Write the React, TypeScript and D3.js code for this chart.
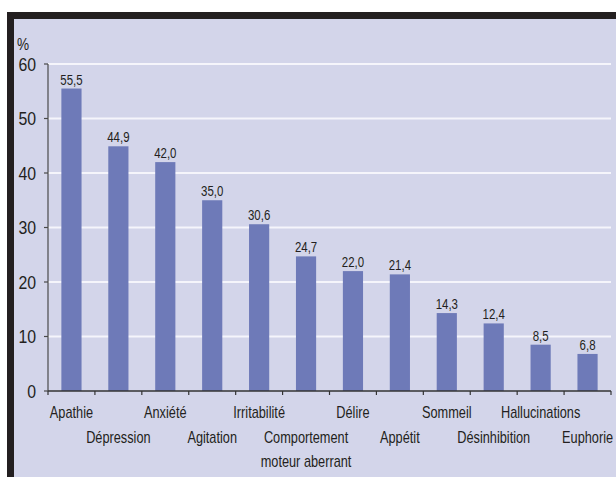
import React, {useEffect, useRef} from "react";
import * as d3 from "d3";

const categories = [
	"Apathie",
	"Dépression",
	"Anxiété",
	"Agitation",
	"Irritabilité",
	"Comportement|moteur aberrant",
	"Délire",
	"Appétit",
	"Sommeil",
	"Désinhibition",
	"Hallucinations",
	"Euphorie",
];
const values = [55.5, 44.9, 42.0, 35.0, 30.6, 24.7, 22.0, 21.4, 14.3, 12.4, 8.5, 6.8];
const yTicks = [0, 10, 20, 30, 40, 50, 60];

const W = 616;
const H = 477;
const FONT = "'Liberation Sans', Arial, sans-serif";
const INK = "#231f20";

const App: React.FC = () => {
	const svgRef = useRef<SVGSVGElement>(null);

	useEffect(() => {
		const svg = d3.select(svgRef.current);
		svg.selectAll("*").remove();

		const left = 48;
		const right = 611;
		const top = 64;
		const bottom = 391;

		// condensed text: normal font squeezed horizontally
		const narrowText = (
			parent: d3.Selection<any, any, any, any>,
			tx: number,
			ty: number,
			txt: string,
			size: number,
			sx: number,
			anchor: string
		) =>
			parent
				.append("text")
				.attr("transform", `translate(${tx},${ty}) scale(${sx},1)`)
				.attr("text-anchor", anchor)
				.style("font-family", FONT)
				.style("font-size", `${size}px`)
				.style("fill", INK)
				.text(txt);

		// frame + background
		svg.append("rect").attr("x", 0).attr("y", 0).attr("width", W).attr("height", H).attr("fill", "#fff");
		svg.append("rect").attr("x", 7).attr("y", 12).attr("width", W - 7).attr("height", H - 12).attr("fill", INK);
		svg.append("rect").attr("x", 14).attr("y", 19).attr("width", W - 14).attr("height", H - 19).attr("fill", "#d3d5ea");

		const x = d3.scaleBand<string>().domain(categories).range([left, right]).padding(0);
		const xBar = d3
			.scaleBand<string>()
			.domain(categories)
			.range([left, right])
			.paddingInner(0.57)
			.paddingOuter(0.285);
		const y = d3.scaleLinear().domain([0, 60]).range([bottom, top]);

		// gridlines
		svg.append("g")
			.selectAll("line")
			.data(yTicks.filter((t) => t > 0))
			.enter()
			.append("line")
			.attr("x1", left)
			.attr("x2", right)
			.attr("y1", (d) => y(d))
			.attr("y2", (d) => y(d))
			.attr("stroke", "#f5f5fb")
			.attr("stroke-width", 2);

		// bars
		svg.append("g")
			.selectAll("rect")
			.data(values)
			.enter()
			.append("rect")
			.attr("x", (d, i) => xBar(categories[i]) || 0)
			.attr("width", xBar.bandwidth())
			.attr("y", (d) => y(d))
			.attr("height", (d) => bottom - y(d))
			.attr("fill", "#6e7ab8");

		// value labels
		const vl = svg.append("g");
		values.forEach((v, i) => {
			narrowText(
				vl,
				(xBar(categories[i]) || 0) + xBar.bandwidth() / 2,
				y(v) - 4,
				v.toFixed(1).replace(".", ","),
				15.5,
				0.74,
				"middle"
			);
		});

		// y axis
		const yAxis = svg.append("g");
		yAxis.append("line")
			.attr("x1", left)
			.attr("x2", left)
			.attr("y1", top)
			.attr("y2", bottom)
			.attr("stroke", "#4a4a4a")
			.attr("stroke-width", 1.2);
		yAxis.selectAll("line.tick")
			.data(yTicks)
			.enter()
			.append("line")
			.attr("class", "tick")
			.attr("x1", left - 4)
			.attr("x2", left)
			.attr("y1", (d) => y(d))
			.attr("y2", (d) => y(d))
			.attr("stroke", "#4a4a4a")
			.attr("stroke-width", 1.2);
		yTicks.forEach((t) => {
			narrowText(yAxis, 36, y(t) + 6.5, String(t), 18, 0.88, "end");
		});
		narrowText(svg, 17, 50, "%", 17, 0.8, "start");

		// x axis
		const xAxis = svg.append("g");
		xAxis.append("line")
			.attr("x1", left)
			.attr("x2", right)
			.attr("y1", bottom)
			.attr("y2", bottom)
			.attr("stroke", "#333")
			.attr("stroke-width", 1.5);
		const bounds = categories.map((c) => x(c) || 0).concat([right]);
		xAxis.selectAll("line.tick")
			.data(bounds)
			.enter()
			.append("line")
			.attr("class", "tick")
			.attr("x1", (d) => d)
			.attr("x2", (d) => d)
			.attr("y1", bottom)
			.attr("y2", bottom + 4)
			.attr("stroke", "#333")
			.attr("stroke-width", 1.2);

		categories.forEach((c, i) => {
			const cx = (x(c) || 0) + x.bandwidth() / 2;
			const base = i % 2 === 0 ? 418 : 443;
			c.split("|").forEach((p, j) => {
				narrowText(xAxis, cx, base + j * 24, p, 17, 0.75, "middle");
			});
		});
	}, []);

	return (
		<svg
			ref={svgRef}
			width={W}
			height={H}
			style={{position: "absolute", left: 0, top: 0, display: "block"}}
		/>
	);
};

export default App;
